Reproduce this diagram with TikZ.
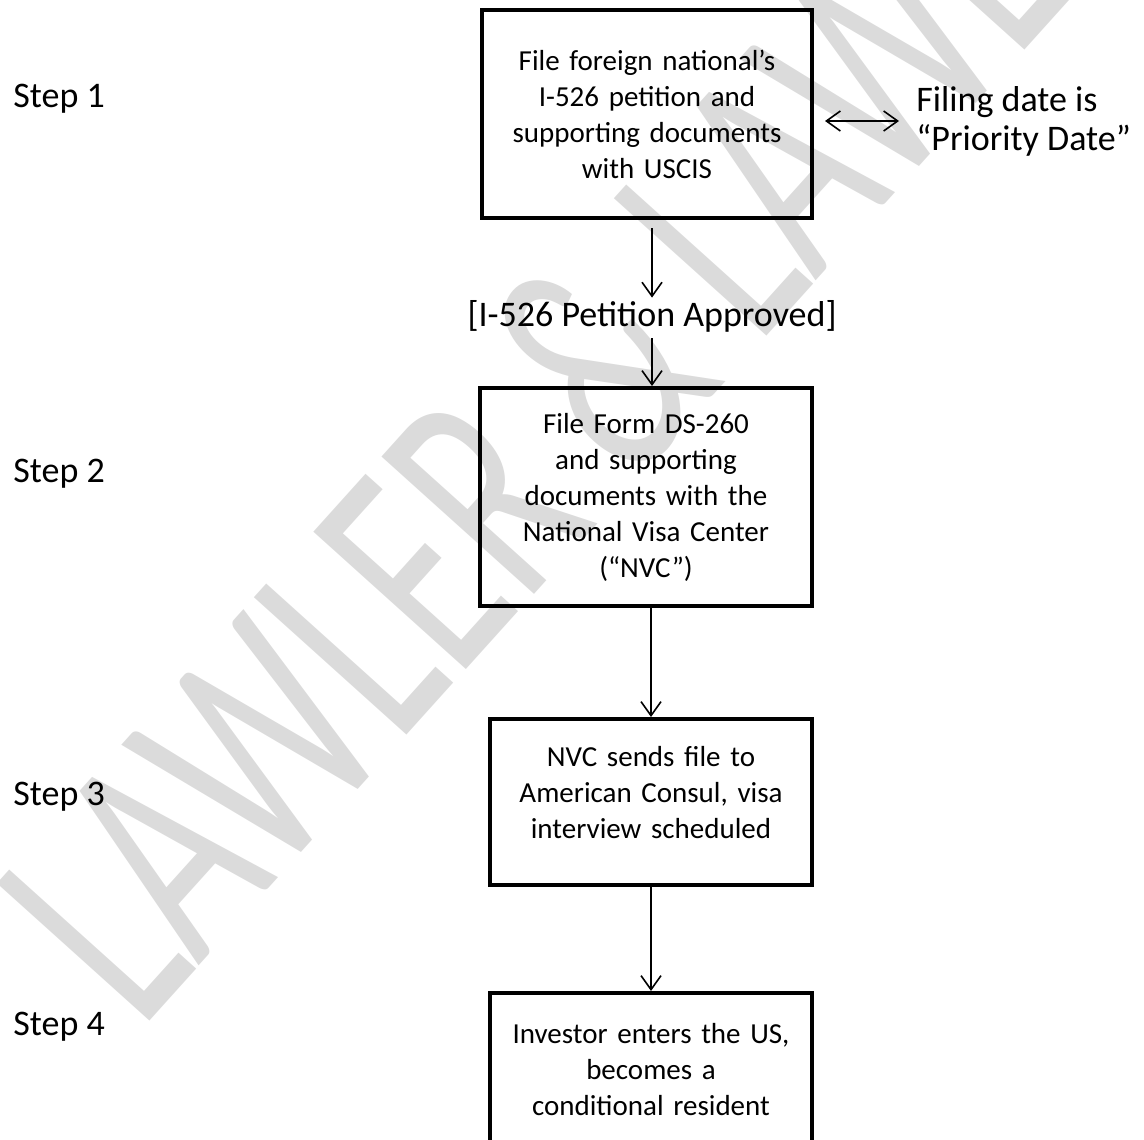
\documentclass[tikz,border=0pt]{standalone}
\usepackage{fontspec}
\setmainfont{Carlito}
\usetikzlibrary{positioning}
\usetikzlibrary{arrows.meta}

\begin{document}
\begin{tikzpicture}[x=0.5pt,y=-0.5pt,>={Straight Barb[length=7pt,width=10pt]},
  step box/.style={draw,line width=2pt,rectangle,align=center,inner sep=0pt,
    font=\fontsize{14.5pt}{18pt}\selectfont},
  big text/.style={inner sep=0pt,font=\fontsize{18pt}{19.5pt}\selectfont},
  flow/.style={->,line width=0.8pt}]

  \useasboundingbox (0,0) rectangle (1144,1139);

  % watermark
  \node[anchor=base west,inner sep=0pt,rotate=48,xscale=0.65,text=black!14,
    font=\fontsize{160pt}{160pt}\selectfont] (mark) at (140,1032) {LAWLER \& LAWLER};

  % boxes
  \node[step box,minimum width=165pt,minimum height=104pt,text width=160pt] (b1) at (647,114)
    {File foreign national’s\\ I-526 petition and\\ supporting documents\\ with USCIS};
  \node[big text,text height=12pt,text depth=4pt,minimum height=20pt] (appr) at (652,318)
    {[I-526 Petition Approved]};
  \node[step box,minimum width=166pt,minimum height=109pt,text width=160pt] (b2) at (646,497)
    {File Form DS-260\\ and supporting\\ documents with the\\ National Visa Center\\ (“NVC”)};
  \node[step box,minimum width=161pt,minimum height=83pt,text width=155pt] (b3) at (651,802)
    {NVC sends file to\\ American Consul, visa\\ interview scheduled\\[-8pt]\mbox{}};
  \node[step box,minimum width=161pt,minimum height=77pt,text width=155pt] (b4) at (651,1070)
    {Investor enters the US,\\ becomes a\\ conditional resident};

  \node[big text,anchor=west,align=left] (prio) at (916,121)
    {Filing date is\\ “Priority Date”};

  % step labels
  \node[big text,anchor=base west] (s1) at (13,108) {Step 1};
  \node[big text,anchor=base west] (s2) at (13,482) {Step 2};
  \node[big text,anchor=base west] (s3) at (13,805) {Step 3};
  \node[big text,anchor=base west] (s4) at (13,1035) {Step 4};

  % connectors
  \draw[flow,shorten <=4pt] (b1.south -| appr.north) -- (appr.north);
  \draw[flow] (appr.south) -- (appr.south |- b2.north);
  \draw[flow] (b2.south -| b3.north) -- (b3.north);
  \draw[flow] (b3.south) -- (b4.north);
  \draw[flow,<->,shorten <=5.5pt,shorten >=8.5pt] (b1.east |- prio.west) -- (prio.west);

\end{tikzpicture}
\end{document}
